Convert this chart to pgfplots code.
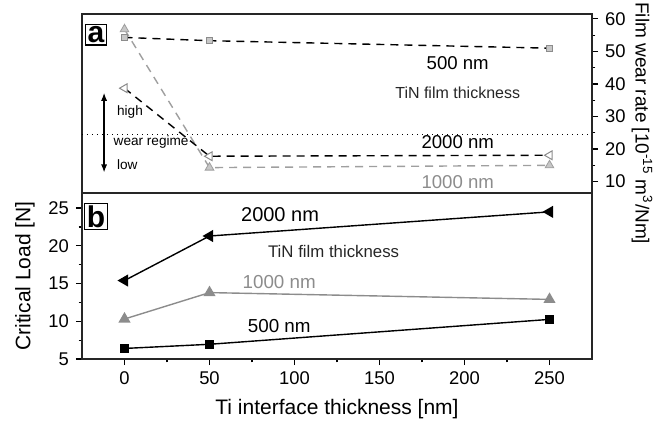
\documentclass[border=0pt]{standalone}
\usepackage{fontspec}
\setmainfont{Liberation Sans}
\usepackage{pgfplots}
\pgfplotsset{compat=1.18}
\usetikzlibrary{arrows.meta}

\definecolor{lgray}{gray}{0.78}
\definecolor{mgray}{gray}{0.55}

\begin{document}
\begin{tikzpicture}
\useasboundingbox (-41pt,-32pt) rectangle (287pt,179.5pt);
\pgfplotsset{
  panel/.style={
    width=255pt, scale only axis, xmin=-25, xmax=275,
    axis line style={black!85, line width=0.8pt},
    tick style={black, line width=0.6pt},
    tick align=outside, major tick length=3pt, minor tick length=1.7pt,
    tick label style={font=\fontsize{9.2}{10}\selectfont},
    label style={font=\fontsize{10.5}{12}\selectfont},
    /pgf/number format/assume math mode=true,
    clip=false,
  },
}
% bottom panel: critical load
\begin{axis}[panel, at={(0,0)}, anchor=south west, height=83pt,
  ymin=5, ymax=27, ytick={5,10,...,25}, minor y tick num=1,
  xtick={0,50,...,250}, minor x tick num=1,
  xtick pos=left, ytick pos=left,
  xlabel={Ti interface thickness [nm]},
  ylabel={Critical Load [N]},
]
  \addplot[mgray, line width=0.7pt, mark=triangle*, mark size=2.8pt,
    mark options={solid, fill=mgray, draw=mgray}] coordinates {
    (0,10.3) (50,13.8) (250,12.9)
  };
  \addplot[black, line width=0.7pt, mark=square*, mark size=2pt,
    mark options={solid, fill=black}] coordinates {
    (0,6.4) (50,6.95) (250,10.25)
  };
  \addplot[black, line width=0.7pt, mark=triangle*, mark size=2.8pt,
    mark options={solid, fill=black, rotate=90}] coordinates {
    (0,15.4) (50,21.3) (250,24.5)
  };
  \node[draw, line width=0.6pt, inner sep=1pt, font=\bfseries\fontsize{15}{15}\selectfont]
    at (axis cs:-16.8,23.9) {b};
  \node[font=\fontsize{10}{11}\selectfont] at (axis cs:91.5,24.2) {2000 nm};
  \node[font=\fontsize{8.4}{9}\selectfont, black!85] at (axis cs:123,19.3) {TiN film thickness};
  \node[font=\fontsize{9.4}{10}\selectfont, mgray] at (axis cs:91,15.2) {1000 nm};
  \node[font=\fontsize{9.4}{10}\selectfont] at (axis cs:91,9.4) {500 nm};
\end{axis}
% top panel: film wear rate
\begin{axis}[panel, at={(0,83pt)}, anchor=south west, height=89.5pt,
  ymin=6.5, ymax=61.5, ytick={10,20,...,60}, minor y tick num=1,
  xtick=\empty, ytick pos=right, yticklabel pos=right,
]
  \addplot[lgray!80!black, line width=0.7pt, dash pattern=on 4pt off 3pt,
    mark=triangle*, mark size=2.5pt,
    mark options={solid, fill=lgray, draw=lgray!80!black, line width=0.4pt}] coordinates {
    (0,56.8) (50,14.3) (250,15.0)
  };
  \addplot[black, line width=0.7pt, dash pattern=on 4pt off 3pt,
    mark=triangle*, mark size=2.5pt,
    mark options={solid, fill=white, draw=mgray, rotate=90, line width=0.5pt}] coordinates {
    (0,38.7) (50,17.8) (250,18.1)
  };
  \addplot[black, line width=0.7pt, dash pattern=on 4pt off 3pt,
    mark=square*, mark size=1.5pt,
    mark options={solid, fill=lgray, draw=mgray, line width=0.4pt}] coordinates {
    (0,54.3) (50,53.3) (250,51.0)
  };
  \addplot[black, line width=0.5pt, dotted, forget plot] coordinates {
    (-25,24.6) (275,24.6)
  };
  \node[draw, line width=0.6pt, inner sep=1pt, font=\bfseries\fontsize{15}{15}\selectfont]
    at (axis cs:-16.8,55.1) {a};
  \node[font=\fontsize{9.3}{10}\selectfont] at (axis cs:196,46.5) {500 nm};
  \node[font=\fontsize{8}{9}\selectfont, black!85] at (axis cs:196,37.3) {TiN film thickness};
  \node[font=\fontsize{9.3}{10}\selectfont] at (axis cs:196,22) {2000 nm};
  \node[font=\fontsize{9.3}{10}\selectfont, mgray] at (axis cs:196,10) {1000 nm};
  \draw[line width=0.6pt, {Latex[length=4pt,width=3pt]}-{Latex[length=4pt,width=3pt]}]
    (axis cs:-12,37.3) -- (axis cs:-12,12.8);
  \node[anchor=west, font=\fontsize{6.8}{8}\selectfont] at (axis cs:-8.5,31.5) {high};
  \node[anchor=west, font=\fontsize{6.8}{8}\selectfont] at (axis cs:-10.5,22.3) {wear regime};
  \node[anchor=west, font=\fontsize{6.8}{8}\selectfont] at (axis cs:-8.5,15.2) {low};
  \node[rotate=-90, font=\fontsize{9.5}{11}\selectfont]
    at ([xshift=25pt]rel axis cs:1,0.39) {Film wear rate [10\textsuperscript{-15} m\textsuperscript{3}/Nm]};
\end{axis}
\end{tikzpicture}
\end{document}
